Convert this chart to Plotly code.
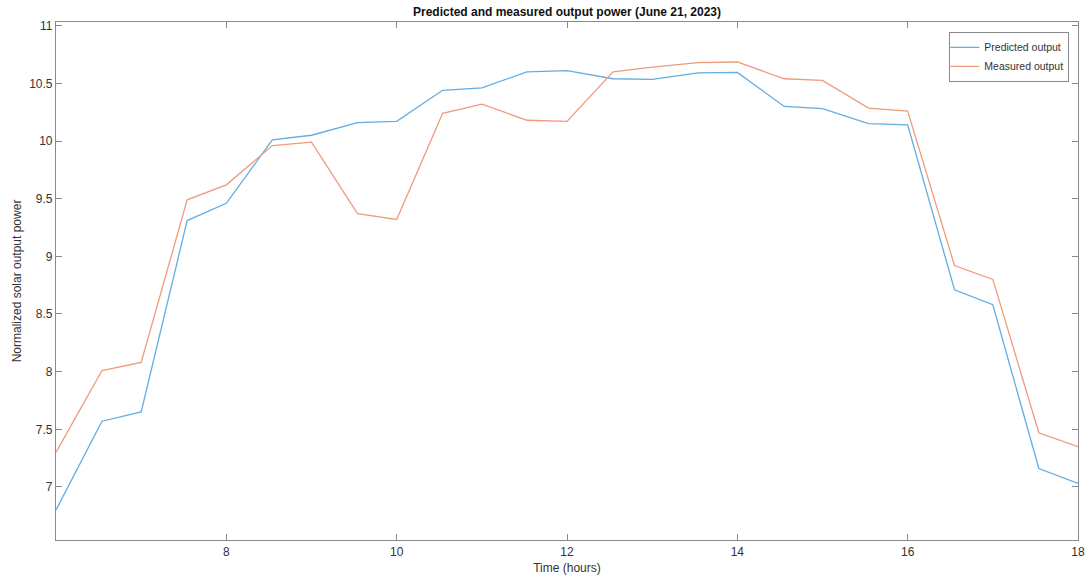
import plotly.graph_objects as go

# Sample times (hours) and normalized solar output for June 21, 2023
time_hours = [6.0, 6.54, 7.0, 7.54, 8.0, 8.54, 9.0, 9.54, 10.0, 10.54, 11.0, 11.53,
              12.0, 12.54, 13.0, 13.54, 14.0, 14.55, 15.0, 15.54, 16.0, 16.55,
              17.0, 17.54, 18.0]
predicted = [6.80, 7.57, 7.65, 9.31, 9.46, 10.01, 10.05, 10.16, 10.17, 10.44, 10.46,
             10.60, 10.61, 10.54, 10.535, 10.59, 10.595, 10.30, 10.28, 10.15, 10.14,
             8.71, 8.58, 7.16, 7.03]
measured = [7.30, 8.01, 8.08, 9.49, 9.62, 9.96, 9.99, 9.37, 9.32, 10.24, 10.32,
            10.18, 10.17, 10.60, 10.64, 10.68, 10.685, 10.54, 10.525, 10.285, 10.26,
            8.92, 8.80, 7.47, 7.35]

x_ticks = [8, 10, 12, 14, 16, 18]
y_ticks = [7, 7.5, 8, 8.5, 9, 9.5, 10, 10.5, 11]
y_tick_text = ["7", "7.5", "8", "8.5", "9", "9.5", "10", "10.5", "11"]

FONT = "Liberation Sans, Arial, Helvetica, sans-serif"
AXIS_COL = "#8a8a8a"
TEXT_COL = "#333333"

fig = go.Figure()
fig.add_trace(go.Scatter(x=time_hours, y=predicted, mode="lines", name="Predicted output",
                         line=dict(color="#62ade3", width=1.3)))
fig.add_trace(go.Scatter(x=time_hours, y=measured, mode="lines", name="Measured output",
                         line=dict(color="#ef9a7c", width=1.3)))

axis_common = dict(
    showgrid=False, zeroline=False, showline=True, linecolor=AXIS_COL, linewidth=1.2,
    mirror="allticks", ticks="inside", ticklen=6, tickcolor=AXIS_COL, tickwidth=1,
    tickfont=dict(family=FONT, size=12, color=TEXT_COL), automargin=False,
)

fig.update_layout(
    width=1086, height=581,
    margin=dict(l=56, r=8, t=22, b=41),
    paper_bgcolor="white", plot_bgcolor="white",
    title=dict(text="<b>Predicted and measured output power (June 21, 2023)</b>",
               x=0.5, xref="paper", xanchor="center", y=0.979, yanchor="middle",
               font=dict(family=FONT, size=12, color="#111111")),
    xaxis=dict(range=[6, 18], tickvals=x_ticks,
               title=dict(text="Time (hours)", standoff=6,
                          font=dict(family=FONT, size=12, color=TEXT_COL)),
               **axis_common),
    yaxis=dict(range=[6.54, 11.032], tickvals=y_ticks, ticktext=y_tick_text,
               title=dict(text="Normalized solar output power", standoff=4,
                          font=dict(family=FONT, size=12, color=TEXT_COL)),
               **axis_common),
    legend=dict(x=0.9915, y=0.981, xanchor="right", yanchor="top",
                bgcolor="white", bordercolor="#8a8a8a", borderwidth=1,
                font=dict(family=FONT, size=10.5, color=TEXT_COL),
                itemwidth=30, tracegroupgap=0, indentation=-6),
    showlegend=True,
)

fig.write_html("out.html")
